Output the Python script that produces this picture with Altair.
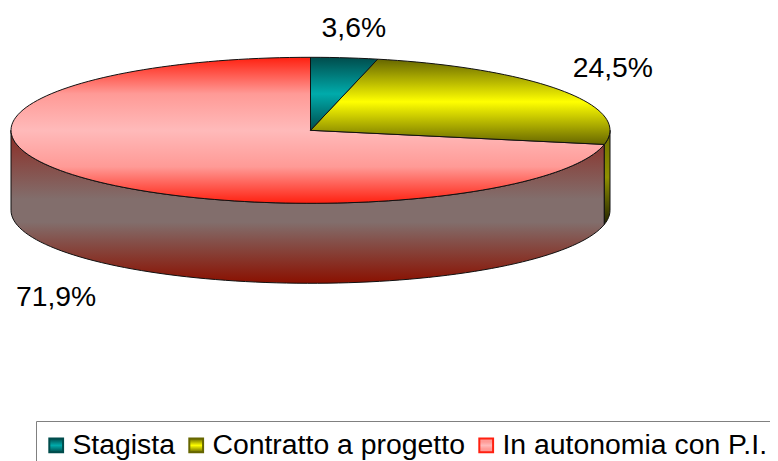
import math
import altair as alt
import pandas as pd

categories = ["Stagista", "Contratto a progetto", "In autonomia con P.I."]
shares = [3.6, 24.5, 71.9]
labels = ["3,6%", "24,5%", "71,9%"]

W, H = 762, 453
CX, CY, RX, RY, DEPTH = 302.5, 122.3, 299.5, 73, 80
STEPS = 90


def grad(*stops):
    return alt.Gradient(
        gradient="linear", x1=0, x2=0, y1=0, y2=1,
        stops=[alt.GradientStop(color=c, offset=o) for o, c in stops],
    )


def grad_expr(*stops):
    body = ",".join("{offset:%s,color:'%s'}" % (o, c) for o, c in stops)
    return {"expr": "{gradient:'linear',x1:0,y1:0,x2:0,y2:1,stops:[%s]}" % body}


teal_stops = ((0, "#004c4c"), (0.5, "#00abab"), (1, "#004c4c"))
yellow_stops = ((0, "#666600"), (0.5, "#ffff00"), (1, "#666600"))
red_stops = ((0, "#ff2010"), (0.25, "#ff9a96"), (0.5, "#ffbaba"), (0.75, "#ff9a96"), (1, "#ff2010"))

top_fill = [grad(*teal_stops), grad(*yellow_stops), grad(*red_stops)]
side_fill = {
    1: grad((0, "#6f6f00"), (0.5, "#8f8f00"), (1, "#222200")),
    2: grad((0, "#8c2a22"), (0.45, "#826e6c"), (0.6, "#826e6c"), (1, "#8a1000")),
}


def ellipse(t, drop=0.0):
    return CX + RX * math.sin(t), CY - RY * math.cos(t) + drop


def arc(a, b):
    n = max(2, int(STEPS * abs(b - a) / math.pi) + 2)
    return [a + (b - a) * i / (n - 1) for i in range(n)]


cum = [0.0]
for s in shares:
    cum.append(cum[-1] + s / sum(shares) * 2 * math.pi)

x_scale = alt.Scale(domain=[0, W], range=[0, W])
y_scale = alt.Scale(domain=[0, H], range=[0, H])


def polygon(points, fill):
    df = pd.DataFrame(points, columns=["x", "y"])
    df["o"] = range(len(df))
    return alt.Chart(df).mark_line(
        fill=fill, stroke="#111111", strokeWidth=1, strokeJoin="round"
    ).encode(
        x=alt.X("x:Q", scale=x_scale, axis=None),
        y=alt.Y("y:Q", scale=y_scale, axis=None),
        order="o:Q",
    )


layers = []
# visible walls of the cylinder (front half only)
spans = {2: (cum[2], 1.5 * math.pi), 1: (0.5 * math.pi, cum[2])}
for i, (a, b) in spans.items():
    ts = arc(a, b)
    pts = [ellipse(t) for t in ts] + [ellipse(t, DEPTH) for t in reversed(ts)]
    pts.append(pts[0])
    layers.append(polygon(pts, side_fill[i]))

# top faces
for i in [2, 1, 0]:
    pts = [(CX, CY)] + [ellipse(t) for t in arc(cum[i], cum[i + 1])] + [(CX, CY)]
    layers.append(polygon(pts, top_fill[i]))

# value labels, anchored at each slice's mid-angle
offsets = [(9.5, -29, 0), (51, -21.5, 0), (-23, 41, DEPTH)]
for i, (dx, dy, drop) in enumerate(offsets):
    ax, ay = ellipse((cum[i] + cum[i + 1]) / 2, drop)
    df = pd.DataFrame({"x": [ax], "y": [ay], "t": [labels[i]]})
    layers.append(
        alt.Chart(df).mark_text(
            font="Liberation Sans", fontSize=28.3, color="#000000",
            align="center", baseline="middle", dx=dx, dy=dy,
        ).encode(
            x=alt.X("x:Q", scale=x_scale, axis=None),
            y=alt.Y("y:Q", scale=y_scale, axis=None),
            text="t:N",
        )
    )

# legend carrier
legend = alt.Legend(
    orient="none", legendX=28, legendY=413, direction="horizontal", columns=3,
    title=None, symbolType="square", symbolSize=190, symbolStrokeWidth=2,
    symbolOpacity=1, symbolOffset=-4, labelFont="Liberation Sans", labelFontSize=28.4,
    labelColor="#000000", labelLimit=400, labelOffset=2, columnPadding=10,
    padding=10, strokeColor="#808080", fillColor="#ffffff", rowPadding=0,
)
layers.append(
    alt.Chart(pd.DataFrame({"c": categories})).mark_point(
        filled=True, opacity=0, size=1
    ).encode(
        x=alt.value(0), y=alt.value(0),
        color=alt.Color(
            "c:N", sort=categories, legend=legend,
            scale=alt.Scale(
                domain=categories,
                range=[grad_expr(*teal_stops), grad_expr(*yellow_stops), grad_expr(*red_stops[1:4])],
            ),
        ),
        stroke=alt.Stroke(
            "c:N", sort=categories, legend=legend,
            scale=alt.Scale(domain=categories, range=["#004c4c", "#666600", "#ff2010"]),
        ),
    )
)

chart = alt.layer(*layers).properties(
    width=W, height=H, padding=0,
    autosize=alt.AutoSizeParams(type="none"),
    background="#ffffff",
).configure_view(stroke=None)

chart.save("out.html", embed_options={"renderer": "svg", "actions": False})
